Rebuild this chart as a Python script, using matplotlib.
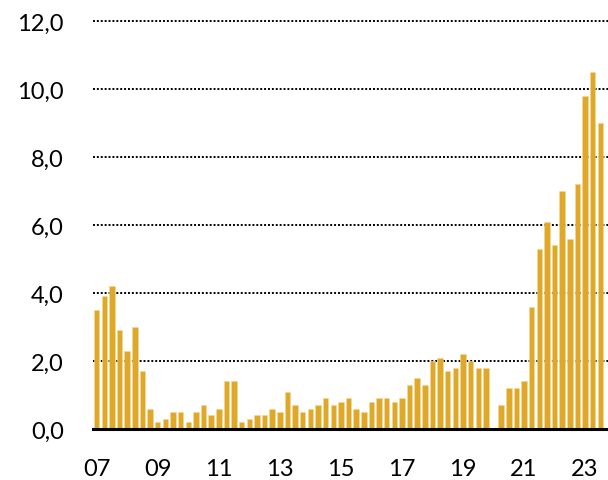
import matplotlib
matplotlib.use('Agg')
import matplotlib.pyplot as plt

# quarterly values, 2007Q1 .. 2023Q3 (2020Q1 missing -> 0)
values = [
    3.5, 3.9, 4.2, 2.9, 2.3, 3.0, 1.7, 0.6,   # 07-08
    0.2, 0.3, 0.5, 0.5, 0.2, 0.5, 0.7, 0.4,   # 09-10
    0.6, 1.4, 1.4, 0.2, 0.3, 0.4, 0.4, 0.6,   # 11-12
    0.5, 1.1, 0.7, 0.5, 0.6, 0.7, 0.9, 0.7,   # 13-14
    0.8, 0.9, 0.6, 0.5, 0.8, 0.9, 0.9, 0.8,   # 15-16
    0.9, 1.3, 1.5, 1.3, 2.0, 2.1, 1.7, 1.8,   # 17-18
    2.2, 2.0, 1.8, 1.8, 0.0, 0.7, 1.2, 1.2,   # 19-20
    1.4, 3.6, 5.3, 6.1, 5.4, 7.0, 5.6, 7.2,   # 21-22
    9.8, 10.5, 9.0,                           # 23
]
tick_labels = ['07', '09', '11', '13', '15', '17', '19', '21', '23']
y_ticks = [0, 2, 4, 6, 8, 10, 12]

plt.rcParams['font.family'] = ['Lato', 'DejaVu Sans']

fig = plt.figure(figsize=(6.08, 4.81), dpi=100)
ax = fig.add_axes([0.153, 0.106, 0.847, 0.862])

x = list(range(len(values)))
ax.bar(x, values, width=0.72, color='#E0A829', edgecolor='#F2D796',
       linewidth=0.4, zorder=3)

for v in y_ticks[1:]:
    ax.axhline(v, color='black', linestyle=(0, (1, 1)), linewidth=1.4, zorder=1)

ax.set_xlim(-0.48, 67.0)
ax.set_ylim(0, 12.2)

ax.set_xticks([i * 8 for i in range(len(tick_labels))])
ax.set_xticklabels(tick_labels)
ax.set_yticks(y_ticks)
ax.set_yticklabels([('%.1f' % v).replace('.', ',') for v in y_ticks])
ax.tick_params(axis='both', length=0, labelsize=17, labelcolor='black')
ax.tick_params(axis='x', pad=21)
ax.tick_params(axis='y', pad=21)

for s in ['top', 'right', 'left']:
    ax.spines[s].set_visible(False)
ax.spines['bottom'].set_linewidth(2.2)
ax.spines['bottom'].set_color('black')
ax.spines['bottom'].set_zorder(4)

plt.savefig('out.png', dpi=100)
